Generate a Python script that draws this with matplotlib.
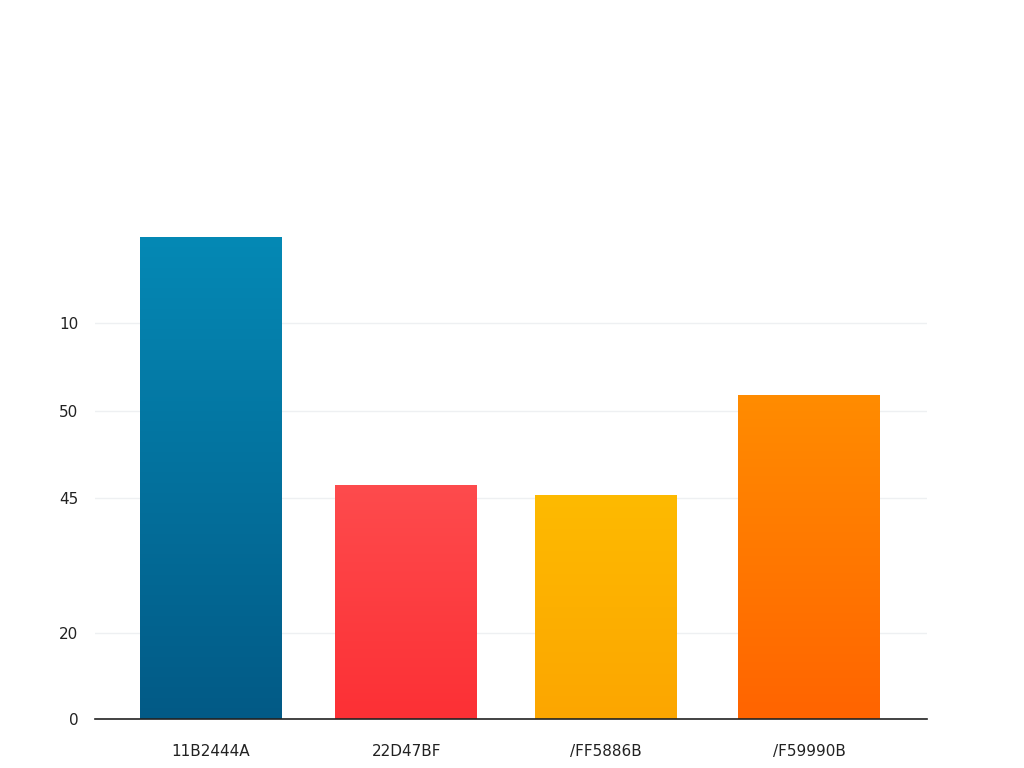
import numpy as np
import matplotlib.pyplot as plt
from matplotlib.colors import LinearSegmentedColormap

# data (y in axis units, ticks labelled as shown)
categories = ["11B2444A", "22D47BF", "/FF5886B", "/F59990B"]
values = [112.0, 54.4, 51.9, 75.3]
tick_pos = [0, 20, 51.4, 71.6, 92]
tick_labels = ["0", "20", "45", "50", "10"]

top_colors = ["#0589b5", "#fe4b4d", "#feba00", "#ff8c00"]
bottom_colors = ["#025a86", "#fc3035", "#fca600", "#ff6400"]

fig = plt.figure(figsize=(10.24, 7.68), dpi=100, facecolor="white")
ax = fig.add_axes([95 / 1024, 49 / 768, 832 / 1024, 590 / 768])
ax.set_facecolor("white")

xs = np.array([0, 0.98, 1.98, 3.0])
bars = ax.bar(xs, values, width=0.71, color="none", edgecolor="none", zorder=2)

grad = np.linspace(1, 0, 256).reshape(-1, 1)
for bar, top, bot in zip(bars, top_colors, bottom_colors):
    cmap = LinearSegmentedColormap.from_list("g", [bot, top])
    x0, y0 = bar.get_x(), bar.get_y()
    w, h = bar.get_width(), bar.get_height()
    im = ax.imshow(grad, cmap=cmap, aspect="auto", extent=(x0, x0 + w, y0, y0 + h),
                   zorder=2, interpolation="bicubic")
    im.set_clip_path(bar)

ax.set_xlim(-0.58, 3.59)
ax.set_ylim(0, 137)

ax.set_yticks(tick_pos)
ax.set_yticklabels(tick_labels)
ax.set_xticks(xs)
ax.set_xticklabels(categories)
ax.tick_params(axis="both", length=0, labelsize=11, colors="#222222")
ax.tick_params(axis="y", pad=12)
ax.tick_params(axis="x", pad=18)

ax.yaxis.grid(True, color="#eef0f2", lw=1.0, zorder=0)
ax.set_axisbelow(True)

for side in ("top", "right", "left"):
    ax.spines[side].set_visible(False)
ax.spines["bottom"].set_color("#222222")
ax.spines["bottom"].set_linewidth(1.2)
ax.spines["bottom"].set_zorder(3)

fig.savefig("out.png", dpi=100, facecolor="white")
